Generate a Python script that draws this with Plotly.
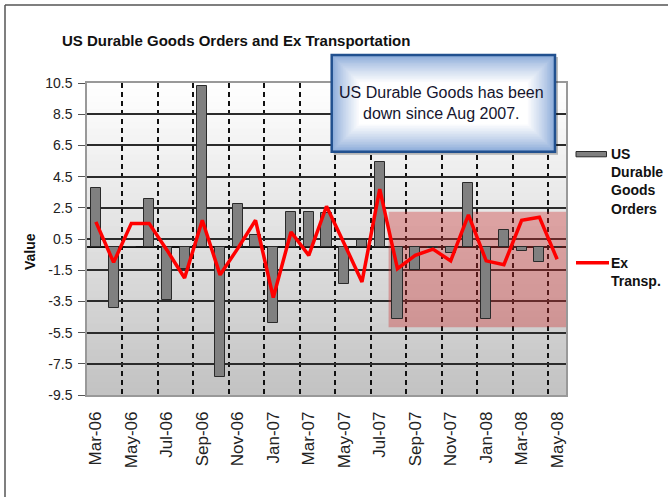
import plotly.graph_objects as go

# ---------------- data ----------------
months = ["Mar-06", "Apr-06", "May-06", "Jun-06", "Jul-06", "Aug-06", "Sep-06",
          "Oct-06", "Nov-06", "Dec-06", "Jan-07", "Feb-07", "Mar-07", "Apr-07",
          "May-07", "Jun-07", "Jul-07", "Aug-07", "Sep-07", "Oct-07", "Nov-07",
          "Dec-07", "Jan-08", "Feb-08", "Mar-08", "Apr-08", "May-08"]

durable_goods = [3.75, -3.95, 0.0, 3.05, -3.4, -1.4, 10.3, -8.35, 2.75, 0.75,
                 -4.9, 2.25, 2.25, 2.15, -2.4, 0.45, 5.45, -4.6, -1.5, -0.05,
                 -0.4, 4.1, -4.65, 1.1, -0.25, -1.0, 0.0]

ex_transp = [1.6, -1.0, 1.5, 1.5, -0.2, -2.0, 1.7, -1.8, -0.1, 1.7,
             -3.25, 0.95, -0.55, 2.6, 0.2, -2.25, 3.7, -1.4, -0.55, -0.15,
             -0.9, 2.05, -0.9, -1.15, 1.7, 1.9, -0.8]

y_tick_vals = [10.5, 8.5, 6.5, 4.5, 2.5, 0.5, -1.5, -3.5, -5.5, -7.5, -9.5]
y_tick_text = ["10.5", "8.5", "6.5", "4.5", "2.5", "0.5", "-1.5", "-3.5",
               "-5.5", "-7.5", "-9.5"]

highlight_from = "Aug-07"
highlight_y = (-5.15, 2.25)

title_text = "US Durable Goods Orders and Ex Transportation"
note_text = "US Durable Goods has been<br>down since Aug 2007."

# ---------------- layout geometry ----------------
W, H = 668, 497
L, R, T, B = 87, 566, 83, 395
FONT = "Arial, Liberation Sans, sans-serif"


def pxx(px):
    return (px - L) / (R - L)


def pxy(py):
    return (B - py) / (B - T)


x_idx = list(range(len(months)))

fig = go.Figure()
fig.add_trace(go.Bar(
    x=x_idx, y=durable_goods, width=0.57, name="US Durable Goods Orders",
    marker=dict(color="#808080", line=dict(color="#2a2a2a", width=1)),
    showlegend=False))
fig.add_trace(go.Scatter(
    x=x_idx, y=ex_transp, mode="lines", name="Ex Transp.",
    line=dict(color="#ff0000", width=3.5), showlegend=False))

shapes = []
# vertical gradient background of the plot area
N = 48
for k in range(N):
    frac = (k + 0.5) / N  # 0 bottom -> 1 top
    v = int(round(194 + (255 - 194) * frac))
    shapes.append(dict(type="rect", xref="paper", yref="paper",
                       x0=0, x1=1, y0=k / N, y1=(k + 1) / N + 0.002,
                       fillcolor=f"rgb({v},{v},{v})", line=dict(width=0),
                       layer="below"))

# highlighted period
hx0 = months.index(highlight_from) - 0.5
hx1 = len(months) - 0.5
shapes.append(dict(type="rect", xref="x", yref="y", x0=hx0, x1=hx1,
                   y0=highlight_y[0], y1=highlight_y[1],
                   fillcolor="rgba(205,45,45,0.36)", line=dict(width=0),
                   layer="between"))

# call-out box with shadow and gradient
bx0, bx1, by0, by1 = 331.7, 555, 55, 151.7
shapes.append(dict(type="rect", xref="paper", yref="paper",
                   x0=pxx(bx0 + 2), x1=pxx(bx1 + 3), y0=pxy(by1 + 3), y1=pxy(by0 + 2),
                   fillcolor="rgba(0,0,0,0.25)", line=dict(width=0), layer="above"))
levels = 18
for k in range(levels):
    inset = k * 1.6
    t = (k / (levels - 1)) ** 0.8
    r = int(135 + (255 - 135) * t)
    g = int(168 + (255 - 168) * t)
    b = int(216 + (255 - 216) * t)
    shapes.append(dict(type="rect", xref="paper", yref="paper",
                       x0=pxx(bx0 + inset), x1=pxx(bx1 - inset),
                       y0=pxy(by1 - inset), y1=pxy(by0 + inset),
                       fillcolor=f"rgb({r},{g},{b})", line=dict(width=0),
                       layer="above"))
shapes.append(dict(type="rect", xref="paper", yref="paper",
                   x0=pxx(bx0), x1=pxx(bx1), y0=pxy(by1), y1=pxy(by0),
                   fillcolor="rgba(0,0,0,0)", line=dict(color="#21508f", width=2.5),
                   layer="above"))

# manual legend glyphs
shapes.append(dict(type="rect", xref="paper", yref="paper",
                   x0=pxx(576), x1=pxx(606.5), y0=pxy(156.8), y1=pxy(151.5),
                   fillcolor="#808080", line=dict(color="#2a2a2a", width=1)))
shapes.append(dict(type="line", xref="paper", yref="paper",
                   x0=pxx(576), x1=pxx(609), y0=pxy(262.7), y1=pxy(262.7),
                   line=dict(color="#ff0000", width=3.5)))

# outer chart border (left and top visible)
shapes.append(dict(type="line", xref="paper", yref="paper",
                   x0=pxx(5), x1=pxx(5), y0=pxy(5), y1=pxy(H + 5),
                   line=dict(color="#555555", width=1.5)))
shapes.append(dict(type="line", xref="paper", yref="paper",
                   x0=pxx(5), x1=pxx(W + 5), y0=pxy(5), y1=pxy(5),
                   line=dict(color="#555555", width=1.5)))

annotations = [
    dict(text=note_text, xref="paper", yref="paper",
         x=pxx((bx0 + bx1) / 2 - 2), y=pxy(102.5), xanchor="center", yanchor="middle",
         showarrow=False, align="center",
         font=dict(family=FONT, size=16, color="#15152e")),
    dict(text="Value", xref="paper", yref="paper", x=pxx(30), y=pxy(252),
         xanchor="center", yanchor="middle", textangle=-90, showarrow=False,
         font=dict(family=FONT, size=14, color="#111", weight="bold")),
    dict(text="US<br>Durable<br>Goods<br>Orders", xref="paper", yref="paper",
         x=pxx(610), y=pxy(145), xanchor="left", yanchor="top", align="left",
         showarrow=False, borderpad=0,
         font=dict(family=FONT, size=14, color="#111", weight="bold")),
    dict(text="Ex<br>Transp.", xref="paper", yref="paper",
         x=pxx(610), y=pxy(254), xanchor="left", yanchor="top", align="left",
         showarrow=False, borderpad=0,
         font=dict(family=FONT, size=14, color="#111", weight="bold")),
]

fig.update_layout(
    width=W, height=H,
    margin=dict(l=L, r=W - R, t=T, b=H - B, pad=0),
    paper_bgcolor="white", plot_bgcolor="white",
    title=dict(text=title_text, xref="container", yref="container",
               x=62 / W, xanchor="left", y=1 - 40.7 / H, yanchor="middle",
               font=dict(family=FONT, size=15, color="#111", weight="bold")),
    shapes=shapes, annotations=annotations,
    bargap=0, showlegend=False,
)

fig.update_xaxes(
    range=[-0.5, len(months) - 0.5],
    tickmode="array", tickvals=x_idx[::2], ticktext=months[::2],
    tickangle=-90, ticks="", ticklabelstandoff=8,
    tickfont=dict(family=FONT, size=17, color="#222"),
    showgrid=False, zeroline=False,
    showline=True, linecolor="#999999", linewidth=1.5, mirror=True,
    minor=dict(tickmode="linear", tick0=1.5, dtick=2, showgrid=True,
               griddash="5px,4px", gridcolor="#111111", gridwidth=1.5,
               ticks=""),
)
fig.update_yaxes(
    range=[-9.5, 10.5],
    tickmode="array", tickvals=y_tick_vals, ticktext=y_tick_text,
    ticks="outside", ticklen=7, tickcolor="#555555", ticklabelstandoff=3,
    tickfont=dict(family=FONT, size=14, color="#222"),
    showgrid=True, gridcolor="#2b2b2b", gridwidth=1.5,
    zeroline=True, zerolinecolor="#111111", zerolinewidth=2,
    showline=True, linecolor="#999999", linewidth=1.5, mirror=True,
)

fig.write_html("out.html",
               config={"displayModeBar": False},
               post_script="document.body.style.margin='0';"
                           "document.body.style.overflow='hidden';")
